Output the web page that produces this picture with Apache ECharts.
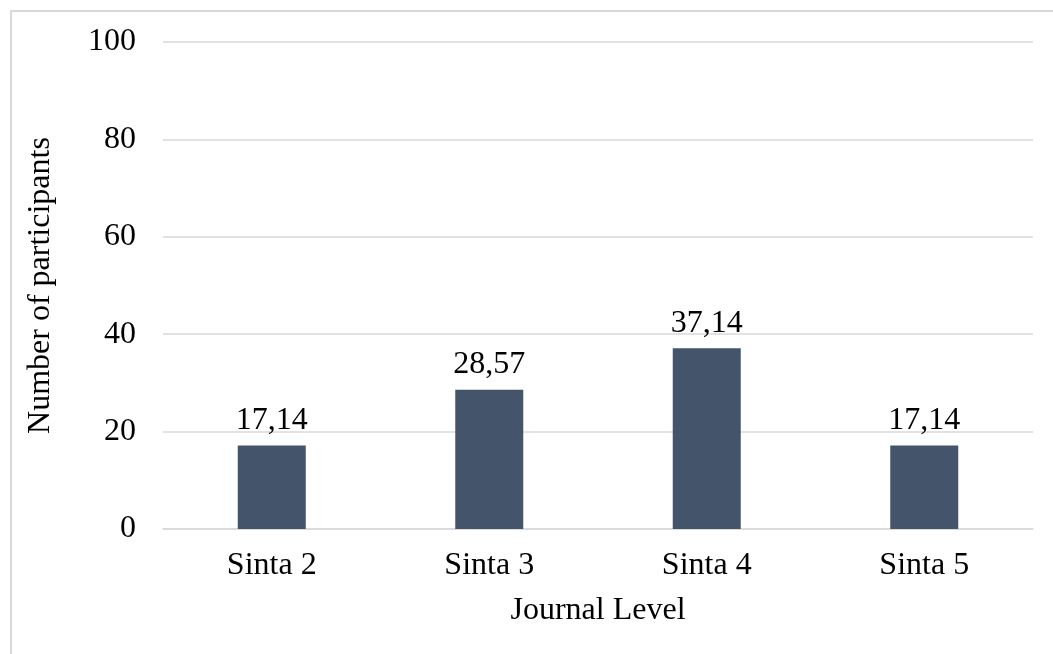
<!DOCTYPE html>
<html>
<head>
<meta charset="utf-8">
<script src="https://cdn.jsdelivr.net/npm/echarts@6/dist/echarts.min.js"></script>
<style>
html,body{margin:0;padding:0;background:#fff;}
#chart{width:1053px;height:654px;}
</style>
</head>
<body>
<div id="chart"></div>
<script>
const categories = ['Sinta 2', 'Sinta 3', 'Sinta 4', 'Sinta 5'];
const values = [17.14, 28.57, 37.14, 17.14];
const yTicks = [0, 20, 40, 60, 80, 100];

const FONT = '"Liberation Serif", "Times New Roman", serif';
const FS = 32;
const chart = echarts.init(document.getElementById('chart'));
chart.setOption({
  animation: false,
  backgroundColor: '#fff',
  graphic: [{
    type: 'rect',
    shape: { x: 11, y: 11, width: 1200, height: 800 },
    style: { fill: 'none', stroke: '#d9d9d9', lineWidth: 2 },
    silent: true
  }],
  grid: { left: 163, right: 20, top: 42, bottom: 125 },
  xAxis: {
    type: 'category',
    data: categories,
    name: 'Journal Level',
    nameLocation: 'middle',
    nameGap: 66,
    nameTextStyle: { fontFamily: FONT, fontSize: FS, color: '#000' },
    axisLine: { lineStyle: { color: '#d9d9d9', width: 1.5 } },
    axisTick: { show: false },
    axisLabel: { fontFamily: FONT, fontSize: FS, color: '#000', margin: 21 }
  },
  yAxis: {
    type: 'value',
    min: yTicks[0],
    max: yTicks[yTicks.length - 1],
    interval: 20,
    name: 'Number of participants',
    nameLocation: 'middle',
    nameGap: 106,
    nameTextStyle: { fontFamily: FONT, fontSize: FS, color: '#000' },
    axisLine: { show: false },
    axisTick: { show: false },
    axisLabel: { fontFamily: FONT, fontSize: FS, color: '#000', margin: 27 },
    splitLine: { lineStyle: { color: '#d9d9d9', width: 1.5 } }
  },
  series: [{
    type: 'bar',
    data: values,
    barWidth: 68,
    itemStyle: { color: '#44546a' },
    label: {
      show: true,
      position: 'top',
      distance: 9,
      fontFamily: FONT,
      fontSize: FS,
      color: '#000',
      formatter: p => p.value.toFixed(2).replace('.', ',')
    }
  }]
});
</script>
</body>
</html>
